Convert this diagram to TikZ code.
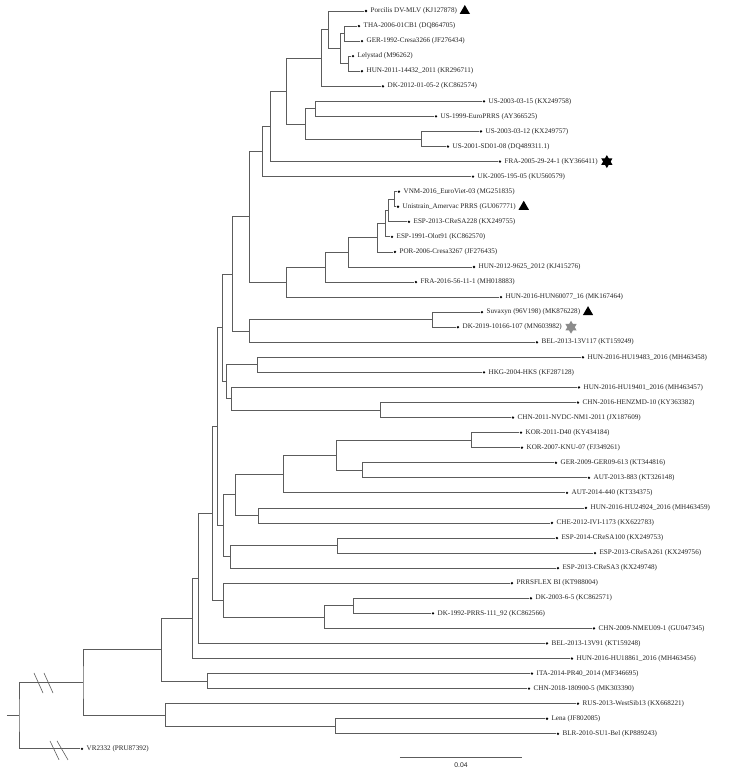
\documentclass[tikz,border=0pt]{standalone}
\usepackage{fontspec}
\setmainfont{Liberation Serif}
\newfontfamily\barfont{Liberation Sans}
\definecolor{BranchGray}{HTML}{5c5c5c}
\definecolor{LabelInk}{HTML}{222222}
\definecolor{StarGray}{HTML}{8c8c8c}
\usepackage{tikz}
\usetikzlibrary{positioning, shapes.geometric}

\begin{document}
\begin{tikzpicture}[
  x=1pt, y=-15.06pt,
  node distance=3pt,
  br/.style={draw=BranchGray, line width=0.8pt},
  brk/.style={draw=BranchGray, line width=0.6pt},
  tip/.style={circle, fill=black, inner sep=0pt, minimum size=2.6pt},
  lab/.style={inner sep=0pt, text=LabelInk, font=\fontsize{7.1}{8}\selectfont},
  barlab/.style={lab, font=\barfont\fontsize{6.8}{8}\selectfont},
  tri/.style={regular polygon, regular polygon sides=3, fill=black,
              inner sep=0pt, minimum size=12pt},
  hexstar/.style={tri, minimum size=13pt}
]
  \useasboundingbox (0,-0.73) rectangle (732,50.47);

  % Tips and labels
  \node[tip] (t0)  at (366,0)  {}; \node[lab, right=of t0]  (l0)  {Porcilis DV-MLV (KJ127878)};
  \node[tip] (t1)  at (359,1)  {}; \node[lab, right=of t1]  (l1)  {THA-2006-01CB1 (DQ864705)};
  \node[tip] (t2)  at (362,2)  {}; \node[lab, right=of t2]  (l2)  {GER-1992-Cresa3266 (JF276434)};
  \node[tip] (t3)  at (353,3)  {}; \node[lab, right=of t3]  (l3)  {Lelystad (M96262)};
  \node[tip] (t4)  at (362,4)  {}; \node[lab, right=of t4]  (l4)  {HUN-2011-14432\_2011 (KR296711)};
  \node[tip] (t5)  at (383,5)  {}; \node[lab, right=of t5]  (l5)  {DK-2012-01-05-2 (KC862574)};
  \node[tip] (t6)  at (484,6)  {}; \node[lab, right=of t6]  (l6)  {US-2003-03-15 (KX249758)};
  \node[tip] (t7)  at (436,7)  {}; \node[lab, right=of t7]  (l7)  {US-1999-EuroPRRS (AY366525)};
  \node[tip] (t8)  at (481,8)  {}; \node[lab, right=of t8]  (l8)  {US-2003-03-12 (KX249757)};
  \node[tip] (t9)  at (448,9)  {}; \node[lab, right=of t9]  (l9)  {US-2001-SD01-08 (DQ489311.1)};
  \node[tip] (t10) at (500,10) {}; \node[lab, right=of t10] (l10) {FRA-2005-29-24-1 (KY366411)};
  \node[tip] (t11) at (473,11) {}; \node[lab, right=of t11] (l11) {UK-2005-195-05 (KU560579)};
  \node[tip] (t12) at (399,12) {}; \node[lab, right=of t12] (l12) {VNM-2016\_EuroViet-03 (MG251835)};
  \node[tip] (t13) at (398,13) {}; \node[lab, right=of t13] (l13) {Unistrain\_Amervac PRRS (GU067771)};
  \node[tip] (t14) at (409,14) {}; \node[lab, right=of t14] (l14) {ESP-2013-CReSA228 (KX249755)};
  \node[tip] (t15) at (392,15) {}; \node[lab, right=of t15] (l15) {ESP-1991-Olot91 (KC862570)};
  \node[tip] (t16) at (395,16) {}; \node[lab, right=of t16] (l16) {POR-2006-Cresa3267 (JF276435)};
  \node[tip] (t17) at (474,17) {}; \node[lab, right=of t17] (l17) {HUN-2012-9625\_2012 (KJ415276)};
  \node[tip] (t18) at (416,18) {}; \node[lab, right=of t18] (l18) {FRA-2016-56-11-1 (MH018883)};
  \node[tip] (t19) at (501,19) {}; \node[lab, right=of t19] (l19) {HUN-2016-HUN60077\_16 (MK167464)};
  \node[tip] (t20) at (482,20) {}; \node[lab, right=of t20] (l20) {Suvaxyn (96V198) (MK876228)};
  \node[tip] (t21) at (458,21) {}; \node[lab, right=of t21] (l21) {DK-2019-10166-107 (MN603982)};
  \node[tip] (t22) at (537,22) {}; \node[lab, right=of t22] (l22) {BEL-2013-13V117 (KT159249)};
  \node[tip] (t23) at (583,23) {}; \node[lab, right=of t23] (l23) {HUN-2016-HU19483\_2016 (MH463458)};
  \node[tip] (t24) at (484,24) {}; \node[lab, right=of t24] (l24) {HKG-2004-HKS (KF287128)};
  \node[tip] (t25) at (579,25) {}; \node[lab, right=of t25] (l25) {HUN-2016-HU19401\_2016 (MH463457)};
  \node[tip] (t26) at (578,26) {}; \node[lab, right=of t26] (l26) {CHN-2016-HENZMD-10 (KY363382)};
  \node[tip] (t27) at (513,27) {}; \node[lab, right=of t27] (l27) {CHN-2011-NVDC-NM1-2011 (JX187609)};
  \node[tip] (t28) at (521,28) {}; \node[lab, right=of t28] (l28) {KOR-2011-D40 (KY434184)};
  \node[tip] (t29) at (522,29) {}; \node[lab, right=of t29] (l29) {KOR-2007-KNU-07 (FJ349261)};
  \node[tip] (t30) at (556,30) {}; \node[lab, right=of t30] (l30) {GER-2009-GER09-613 (KT344816)};
  \node[tip] (t31) at (589,31) {}; \node[lab, right=of t31] (l31) {AUT-2013-883 (KT326148)};
  \node[tip] (t32) at (567,32) {}; \node[lab, right=of t32] (l32) {AUT-2014-440 (KT334375)};
  \node[tip] (t33) at (586,33) {}; \node[lab, right=of t33] (l33) {HUN-2016-HU24924\_2016 (MH463459)};
  \node[tip] (t34) at (552,34) {}; \node[lab, right=of t34] (l34) {CHE-2012-IVI-1173 (KX622783)};
  \node[tip] (t35) at (557,35) {}; \node[lab, right=of t35] (l35) {ESP-2014-CReSA100 (KX249753)};
  \node[tip] (t36) at (595,36) {}; \node[lab, right=of t36] (l36) {ESP-2013-CReSA261 (KX249756)};
  \node[tip] (t37) at (558,37) {}; \node[lab, right=of t37] (l37) {ESP-2013-CReSA3 (KX249748)};
  \node[tip] (t38) at (512,38) {}; \node[lab, right=of t38] (l38) {PRRSFLEX BI (KT988004)};
  \node[tip] (t39) at (531,39) {}; \node[lab, right=of t39] (l39) {DK-2003-6-5 (KC862571)};
  \node[tip] (t40) at (433,40) {}; \node[lab, right=of t40] (l40) {DK-1992-PRRS-111\_92 (KC862566)};
  \node[tip] (t41) at (594,41) {}; \node[lab, right=of t41] (l41) {CHN-2009-NMEU09-1 (GU047345)};
  \node[tip] (t42) at (547,42) {}; \node[lab, right=of t42] (l42) {BEL-2013-13V91 (KT159248)};
  \node[tip] (t43) at (572,43) {}; \node[lab, right=of t43] (l43) {HUN-2016-HU18861\_2016 (MH463456)};
  \node[tip] (t44) at (532,44) {}; \node[lab, right=of t44] (l44) {ITA-2014-PR40\_2014 (MF346695)};
  \node[tip] (t45) at (529,45) {}; \node[lab, right=of t45] (l45) {CHN-2018-180900-5 (MK303390)};
  \node[tip] (t46) at (578,46) {}; \node[lab, right=of t46] (l46) {RUS-2013-WestSib13 (KX668221)};
  \node[tip] (t47) at (547,47) {}; \node[lab, right=of t47] (l47) {Lena (JF802085)};
  \node[tip] (t48) at (558,48) {}; \node[lab, right=of t48] (l48) {BLR-2010-SU1-Bel (KP889243)};
  \node[tip] (t49) at (82,49)  {}; \node[lab, right=of t49] (l49) {VR2332 (PRU87392)};

  % Markers
  \node[tri, right=4pt of l0]  (m0)  {};
  \node[tri, right=4pt of l13] (m13) {};
  \node[tri, right=4pt of l20] (m20) {};
  \node[hexstar, right=5pt of l10] (s10) {};
  \node[hexstar, shape border rotate=180] (s10b) at (s10.center) {};
  \node[hexstar, fill=StarGray, right=5pt of l21] (s21) {};
  \node[hexstar, fill=StarGray, shape border rotate=180] (s21b) at (s21.center) {};

  % Porcilis / Lelystad group
  \coordinate (nTG)   at (344,1.5);
  \coordinate (nLH)   at (348,3.5);
  \coordinate (nTGLH) at (340,2.5);
  \coordinate (nPor)  at (328,1.25);
  \coordinate (nDK)   at (321,3.125);
  \draw[br] (t1) -| (nTG) |- (t2);
  \draw[br] (t3) -| (nLH) |- (t4);
  \draw[br] (nTG) -| (nTGLH) |- (nLH);
  \draw[br] (t0) -| (nPor) |- (nTGLH);
  \draw[br] (nPor) -| (nDK) |- (t5);

  % US group
  \coordinate (nUS1) at (315,6.5);
  \coordinate (nUS2) at (421,8.5);
  \coordinate (nUS)  at (305,7.5);
  \coordinate (nF)   at (286,5.3125);
  \coordinate (nJ)   at (270,7.656);
  \coordinate (nK)   at (262,9.328);
  \draw[br] (t6) -| (nUS1) |- (t7);
  \draw[br] (t8) -| (nUS2) |- (t9);
  \draw[br] (nUS1) -| (nUS) |- (nUS2);
  \draw[br] (nDK) -| (nF) |- (nUS);
  \draw[br] (nF) -| (nJ) |- (t10);
  \draw[br] (nJ) -| (nK) |- (t11);

  % Unistrain / Olot91 group
  \coordinate (nVU)   at (394,12.5);
  \coordinate (nVUE)  at (388,13.25);
  \coordinate (nVUEO) at (385,14.125);
  \coordinate (nPOR)  at (377,15.0625);
  \coordinate (nH12)  at (348,16.031);
  \coordinate (nF16)  at (325,17.016);
  \coordinate (nM)    at (286,18.008);
  \coordinate (nL)    at (249,13.668);
  \draw[br] (t12) -| (nVU) |- (t13);
  \draw[br] (nVU) -| (nVUE) |- (t14);
  \draw[br] (nVUE) -| (nVUEO) |- (t15);
  \draw[br] (nVUEO) -| (nPOR) |- (t16);
  \draw[br] (nPOR) -| (nH12) |- (t17);
  \draw[br] (nH12) -| (nF16) |- (t18);
  \draw[br] (nF16) -| (nM) |- (t19);
  \draw[br] (nK) -| (nL) |- (nM);

  % Suvaxyn group
  \coordinate (nR) at (432,20.5);
  \coordinate (nQ) at (249,21.25);
  \coordinate (nP) at (232,17.459);
  \draw[br] (t20) -| (nR) |- (t21);
  \draw[br] (nR) -| (nQ) |- (t22);
  \draw[br] (nL) -| (nP) |- (nQ);

  % HUN / HKG / CHN
  \coordinate (nHH)  at (257,23.5);
  \coordinate (nCHN) at (380,26.5);
  \coordinate (nU)   at (231,25.75);
  \coordinate (nV)   at (226,24.625);
  \coordinate (nS)   at (222,21.042);
  \draw[br] (t23) -| (nHH) |- (t24);
  \draw[br] (t26) -| (nCHN) |- (t27);
  \draw[br] (t25) -| (nU) |- (nCHN);
  \draw[br] (nHH) -| (nV) |- (nU);
  \draw[br] (nP) -| (nS) |- (nV);

  % KOR / GER / AUT / ESP
  \coordinate (nKOR) at (471,28.5);
  \coordinate (nGA)  at (362,30.5);
  \coordinate (nKGA) at (336,29.5);
  \coordinate (nY)   at (283,30.75);
  \coordinate (nHC)  at (258,33.5);
  \coordinate (nZ)   at (235,32.125);
  \coordinate (nESP) at (337,35.5);
  \coordinate (nAA)  at (230,36.25);
  \coordinate (nAB)  at (223,34.1875);
  \coordinate (nW)   at (217,27.615);
  \draw[br] (t28) -| (nKOR) |- (t29);
  \draw[br] (t30) -| (nGA) |- (t31);
  \draw[br] (nKOR) -| (nKGA) |- (nGA);
  \draw[br] (nKGA) -| (nY) |- (t32);
  \draw[br] (t33) -| (nHC) |- (t34);
  \draw[br] (nY) -| (nZ) |- (nHC);
  \draw[br] (t35) -| (nESP) |- (t36);
  \draw[br] (nESP) -| (nAA) |- (t37);
  \draw[br] (nZ) -| (nAB) |- (nAA);
  \draw[br] (nS) -| (nW) |- (nAB);

  % PRRSFLEX / DK / CHN / BEL / HUN / ITA
  \coordinate (nDKp) at (353,39.5);
  \coordinate (nAC)  at (324,40.25);
  \coordinate (nAD)  at (223,39.125);
  \coordinate (nAE)  at (212,33.37);
  \coordinate (nAF)  at (198,37.685);
  \coordinate (nAG)  at (192,40.343);
  \coordinate (nAH)  at (207,44.5);
  \coordinate (nAI)  at (161,42.42);
  \draw[br] (t39) -| (nDKp) |- (t40);
  \draw[br] (nDKp) -| (nAC) |- (t41);
  \draw[br] (t38) -| (nAD) |- (nAC);
  \draw[br] (nW) -| (nAE) |- (nAD);
  \draw[br] (nAE) -| (nAF) |- (t42);
  \draw[br] (nAF) -| (nAG) |- (t43);
  \draw[br] (t44) -| (nAH) |- (t45);
  \draw[br] (nAG) -| (nAI) |- (nAH);

  % Basal part and root
  \coordinate (nAJ)   at (335,47.5);
  \coordinate (nAK)   at (165,46.75);
  \coordinate (nAL)   at (83,44.585);
  \coordinate (nRoot) at (19,46.79);
  \coordinate (stem)  at (7,46.79);
  \draw[br] (t47) -| (nAJ) |- (t48);
  \draw[br] (t46) -| (nAK) |- (nAJ);
  \draw[br] (nAI) -| (nAL) |- (nAK);
  \draw[br] (nAL) -| (nRoot) |- (t49);
  \draw[br] (stem) -- (nRoot);

  % Break marks
  \draw[brk] (34,43.96) -- (43,45.29) (44,43.96) -- (53,45.29);
  \draw[brk] (50,48.47) -- (59,49.73) (57,48.47) -- (68,49.73);

  % Scale bar
  \coordinate (sbL) at (400,49.54);
  \coordinate (sbR) at (522,49.54);
  \draw[br] (sbL) -- node[barlab, below=5pt] (sbT) {0.04} (sbR);
\end{tikzpicture}
\end{document}
